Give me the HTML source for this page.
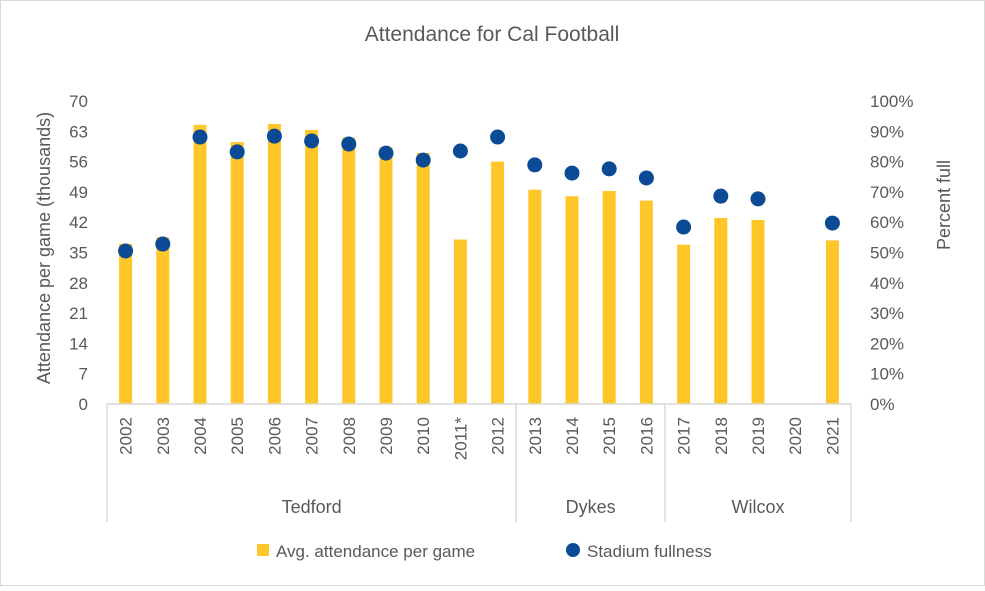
<!DOCTYPE html>
<html><head><meta charset="utf-8"><style>
body{margin:0;background:#fff;}
svg text{font-family:"Liberation Sans",sans-serif;fill:#595959;}
</style></head><body>
<svg id="chart" width="985" height="586" xmlns="http://www.w3.org/2000/svg">
<rect x="0.5" y="0.5" width="984" height="585" fill="#fff" stroke="#d9d9d9"/>
<text x="492" y="41" text-anchor="middle" font-size="21">Attendance for Cal Football</text>
<g id="marks"></g>
<text transform="translate(50,248) rotate(-90)" text-anchor="middle" font-size="18">Attendance per game (thousands)</text>
<text transform="translate(950,205) rotate(-90)" text-anchor="middle" font-size="18">Percent full</text>
<g>
<rect x="257" y="544" width="12" height="12" fill="#FFC629"/>
<text x="276" y="557" font-size="17">Avg. attendance per game</text>
<circle cx="573" cy="550" r="7" fill="#0B4A95"/>
<text x="587" y="557" font-size="17">Stadium fullness</text>
</g>
</svg>
<script>
const categories=["2002","2003","2004","2005","2006","2007","2008","2009","2010","2011*","2012","2013","2014","2015","2016","2017","2018","2019","2020","2021"];
const attendance=[37,38.5,64.5,60.5,64.7,63.3,61.5,59.3,58,38,56,49.5,48,49.2,47,36.8,43,42.5,null,37.8];
const fullness=[50.5,52.8,88.1,83.2,88.4,86.8,85.8,82.8,80.5,83.5,88.1,78.9,76.2,77.6,74.6,58.4,68.6,67.7,null,59.7];
const leftTicks=[0,7,14,21,28,35,42,49,56,63,70];
const rightTicks=[0,10,20,30,40,50,60,70,80,90,100];
const groups=[{name:"Tedford",start:0,end:10},{name:"Dykes",start:11,end:14},{name:"Wilcox",start:15,end:19}];

const NS="http://www.w3.org/2000/svg";
const g=document.getElementById("marks");
const X0=107,X1=851,Y0=404,Y1=101;
const step=(X1-X0)/categories.length;
const xc=i=>X0+step*(i+0.5);
const yL=v=>Y0-(v/70)*(Y0-Y1);
const yR=v=>Y0-(v/100)*(Y0-Y1);
function mk(tag,attrs){const e=document.createElementNS(NS,tag);for(const k in attrs)e.setAttribute(k,attrs[k]);g.appendChild(e);return e;}

leftTicks.forEach(t=>{const e=mk("text",{x:88,y:yL(t)+6,"text-anchor":"end","font-size":"17"});e.textContent=t;

});
rightTicks.forEach(t=>{const e=mk("text",{x:870,y:yR(t)+6,"font-size":"17"});e.textContent=t+"%";

});

attendance.forEach((v,i)=>{if(v==null)return;const e=mk("rect",{x:xc(i)-6.5,y:yL(v),width:13,height:Y0-yL(v),fill:"#FFC629"});

});

const ax=mk("line",{x1:X0,y1:Y0,x2:X1,y2:Y0,stroke:"#d9d9d9","stroke-width":1.5});



fullness.forEach((v,i)=>{if(v==null)return;const e=mk("circle",{cx:xc(i),cy:yR(v),r:7.5,fill:"#0B4A95"});

});

categories.forEach((c,i)=>{const e=mk("text",{transform:`translate(${xc(i)+6},${417}) rotate(-90)`,"text-anchor":"end","font-size":"17"});e.textContent=c;

});

const seps=[0,11,15,20];
seps.forEach(s=>{const x=X0+step*s;const e=mk("line",{x1:x,y1:Y0,x2:x,y2:522,stroke:"#d9d9d9","stroke-width":1.5});

});
groups.forEach(gr=>{const x=(X0+step*gr.start+X0+step*(gr.end+1))/2;const e=mk("text",{x:x,y:513,"text-anchor":"middle","font-size":"18"});e.textContent=gr.name;

});
</script>
</body></html>
